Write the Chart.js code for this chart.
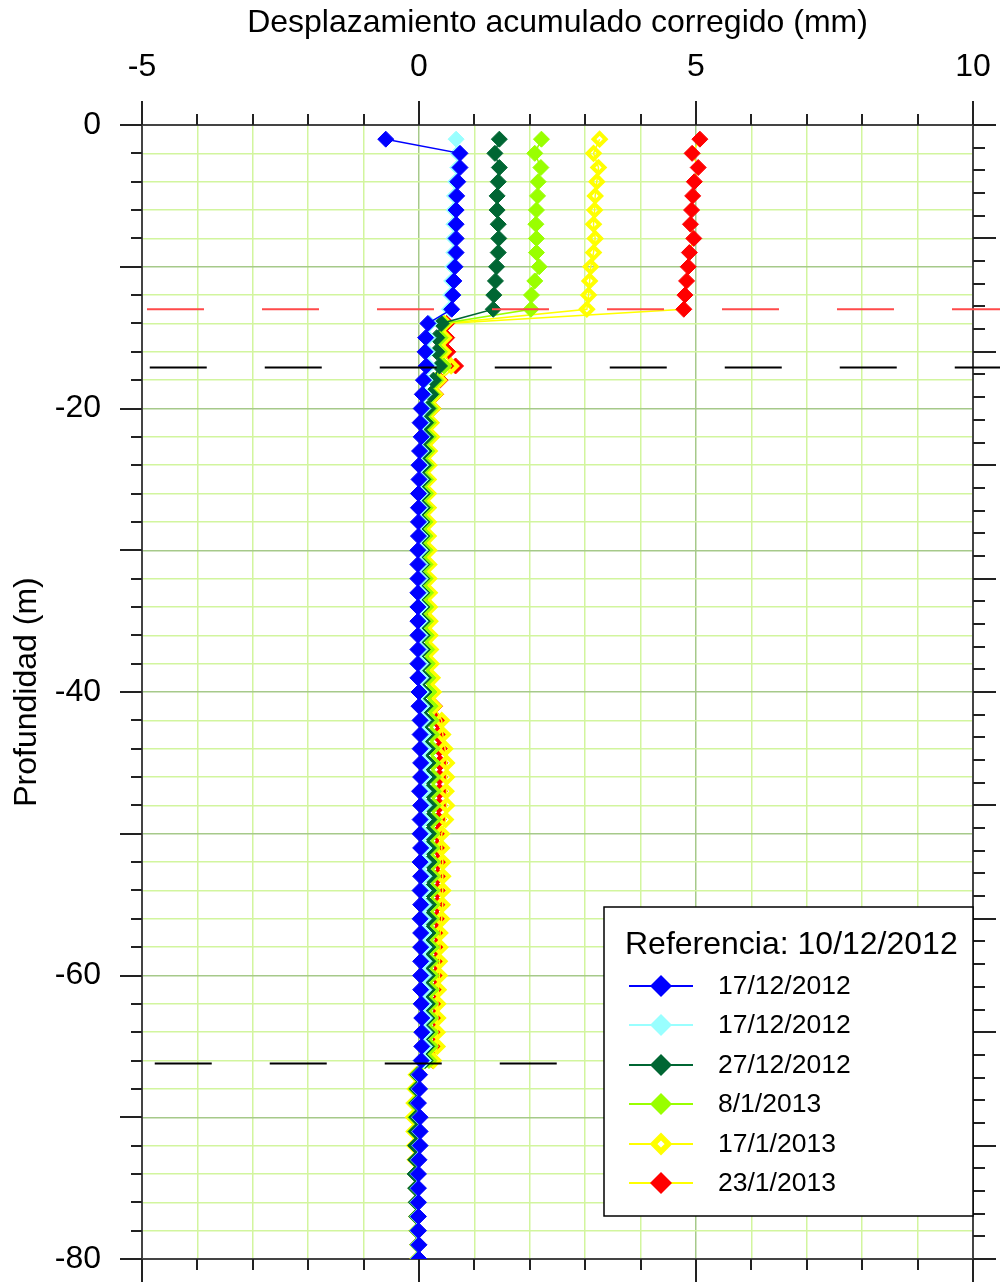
<!DOCTYPE html>
<html>
<head>
<meta charset="utf-8">
<script src="https://cdn.jsdelivr.net/npm/chart.js@4/dist/chart.umd.min.js"></script>
<style>
html,body{margin:0;padding:0;background:#fff;}
#wrap{width:1000px;height:1282px;}
canvas{display:block;}
</style>
</head>
<body>
<div id="wrap"><canvas id="c" width="1000" height="1282"></canvas></div>
<script>
// ---------------- DATA ----------------
const xTitle = 'Desplazamiento acumulado corregido (mm)';
const yTitle = 'Profundidad (m)';
const legendTitle = 'Referencia: 10/12/2012';
const seriesLabels = ['17/12/2012', '17/12/2012', '27/12/2012', '8/1/2013', '17/1/2013', '23/1/2013'];

const depths = [
  -1, -2, -3, -4, -5, -6, -7, -8, -9, -10,
  -11, -12, -13, -14, -15, -16, -17, -18, -19, -20,
  -21, -22, -23, -24, -25, -26, -27, -28, -29, -30,
  -31, -32, -33, -34, -35, -36, -37, -38, -39, -40,
  -41, -42, -43, -44, -45, -46, -47, -48, -49, -50,
  -51, -52, -53, -54, -55, -56, -57, -58, -59, -60,
  -61, -62, -63, -64, -65, -66, -67, -68, -69, -70,
  -71, -72, -73, -74, -75, -76, -77, -78, -79, -80
];

const serie1 = [ // 17/12/2012 (azul)
  -0.60, 0.74, 0.74, 0.70, 0.68, 0.67, 0.67, 0.67, 0.67, 0.65,
  0.63, 0.61, 0.59, 0.16, 0.12, 0.11, 0.13, 0.08, 0.06, 0.04,
  0.02, 0.04, 0.01, 0.00, 0.00, -0.01, -0.01, -0.01, -0.01, -0.02,
  -0.02, -0.02, -0.02, -0.02, -0.02, -0.02, -0.02, -0.02, -0.02, 0.00,
  0.00, 0.02, 0.02, 0.02, 0.03, 0.03, 0.01, 0.03, 0.02, 0.02,
  0.03, 0.02, 0.03, 0.02, 0.03, 0.02, 0.03, 0.03, 0.03, 0.03,
  0.03, 0.04, 0.05, 0.05, 0.05, 0.04, 0.01, 0.01, -0.01, 0.02,
  0.02, 0.02, 0.00, -0.01, -0.01, -0.01, -0.01, -0.01, 0.00, 0.00
];
const serie2 = [ // 17/12/2012 (celeste)
  0.67, 0.70, 0.70, 0.66, 0.64, 0.63, 0.63, 0.63, 0.63, 0.61,
  0.59, 0.57, 0.55, 0.19, 0.16, 0.15, 0.17, 0.11, 0.09, 0.07,
  0.05, 0.06, 0.04, 0.03, 0.03, 0.02, 0.02, 0.02, 0.02, 0.02,
  0.02, 0.02, 0.02, 0.02, 0.02, 0.02, 0.02, 0.03, 0.03, 0.04,
  0.05, 0.07, 0.08, 0.08, 0.09, 0.09, 0.08, 0.09, 0.08, 0.08,
  0.09, 0.08, 0.09, 0.08, 0.09, 0.08, 0.09, 0.09, 0.09, 0.09,
  0.09, 0.09, 0.10, 0.10, 0.10, 0.08, 0.00, 0.00, -0.02, 0.01,
  0.01, 0.01, -0.01, -0.02, -0.02, -0.02, -0.02, -0.02, -0.01, -0.01
];
const serie3 = [ // 27/12/2012 (verde oscuro)
  1.45, 1.37, 1.45, 1.43, 1.41, 1.41, 1.43, 1.44, 1.43, 1.40,
  1.38, 1.35, 1.34, 0.40, 0.32, 0.32, 0.37, 0.26, 0.21, 0.16,
  0.12, 0.12, 0.09, 0.08, 0.07, 0.06, 0.06, 0.05, 0.05, 0.05,
  0.05, 0.05, 0.05, 0.05, 0.06, 0.06, 0.06, 0.07, 0.08, 0.09,
  0.11, 0.13, 0.14, 0.15, 0.16, 0.17, 0.17, 0.18, 0.18, 0.17,
  0.17, 0.18, 0.18, 0.17, 0.17, 0.17, 0.16, 0.16, 0.16, 0.15,
  0.15, 0.15, 0.14, 0.14, 0.14, 0.11, -0.02, -0.03, -0.04, -0.04,
  -0.05, -0.06, -0.06, -0.07, -0.06, -0.05, -0.04, -0.03, -0.02, -0.02
];
const serie4 = [ // 8/1/2013 (verde claro)
  2.21, 2.09, 2.20, 2.15, 2.14, 2.12, 2.11, 2.12, 2.12, 2.17,
  2.09, 2.03, 2.02, 0.43, 0.38, 0.37, 0.45, 0.30, 0.24, 0.20,
  0.17, 0.17, 0.14, 0.13, 0.12, 0.12, 0.11, 0.11, 0.11, 0.11,
  0.11, 0.11, 0.12, 0.12, 0.12, 0.13, 0.14, 0.15, 0.16, 0.18,
  0.20, 0.22, 0.23, 0.24, 0.25, 0.26, 0.26, 0.26, 0.26, 0.24,
  0.24, 0.25, 0.25, 0.24, 0.24, 0.23, 0.23, 0.23, 0.22, 0.22,
  0.22, 0.21, 0.21, 0.21, 0.21, 0.18, -0.03, -0.05, -0.06, -0.06,
  -0.06, -0.05, -0.05, -0.05, -0.04, -0.04, -0.03, -0.03, -0.02, -0.02
];
const serie5 = [ // 17/1/2013 (amarillo)
  3.26, 3.15, 3.24, 3.21, 3.18, 3.17, 3.15, 3.18, 3.15, 3.10,
  3.08, 3.06, 3.03, 0.46, 0.45, 0.44, 0.58, 0.36, 0.29, 0.25,
  0.22, 0.23, 0.19, 0.18, 0.17, 0.17, 0.17, 0.17, 0.17, 0.18,
  0.18, 0.18, 0.19, 0.19, 0.20, 0.20, 0.21, 0.22, 0.24, 0.26,
  0.27, 0.41, 0.43, 0.47, 0.50, 0.50, 0.49, 0.50, 0.48, 0.41,
  0.41, 0.43, 0.43, 0.43, 0.42, 0.41, 0.38, 0.38, 0.37, 0.37,
  0.35, 0.34, 0.34, 0.33, 0.33, 0.26, -0.05, -0.07, -0.09, -0.10,
  -0.09, -0.08, -0.07, -0.06, -0.05, -0.04, -0.04, -0.03, -0.02, -0.02
];
const serie6 = [ // 23/1/2013 (rojo)
  5.07, 4.93, 5.04, 4.97, 4.94, 4.92, 4.90, 4.96, 4.88, 4.86,
  4.83, 4.80, 4.78, 0.50, 0.50, 0.52, 0.66, 0.38, 0.30, 0.25,
  0.21, 0.22, 0.18, 0.17, 0.16, 0.16, 0.16, 0.16, 0.16, 0.16,
  0.17, 0.17, 0.17, 0.17, 0.18, 0.18, 0.19, 0.20, 0.22, 0.25,
  0.28, 0.33, 0.34, 0.37, 0.38, 0.37, 0.37, 0.36, 0.35, 0.33,
  0.33, 0.34, 0.34, 0.33, 0.33, 0.32, 0.32, 0.31, 0.31, 0.30,
  0.30, 0.29, 0.29, 0.29, 0.28, 0.25, -0.04, -0.06, -0.08, -0.09,
  -0.08, -0.07, -0.06, -0.06, -0.05, -0.04, -0.03, -0.03, -0.02, -0.02
];

// horizontal reference lines (depth, start x, end x in mm)
const refDepths = [-13, -17.1, -66.2];
const refStartX = [-4.91, -4.86, -4.77];
const refEndX = [10.5, 10.5, 10.0];

// tick values
const xTickValues = [-5, -4, -3, -2, -1, 0, 1, 2, 3, 4, 5, 6, 7, 8, 9, 10];
const yLeftTickValues = [0, -2, -4, -6, -8, -10, -12, -14, -16, -18, -20, -22, -24, -26, -28, -30,
  -32, -34, -36, -38, -40, -42, -44, -46, -48, -50, -52, -54, -56, -58, -60, -62, -64, -66, -68, -70,
  -72, -74, -76, -78, -80];
const yRightTickValues = [0, -1.6, -3.2, -4.8, -6.4, -8, -9.6, -11.2, -12.8, -14.4, -16, -17.6, -19.2,
  -20.8, -22.4, -24, -25.6, -27.2, -28.8, -30.4, -32, -33.6, -35.2, -36.8, -38.4, -40, -41.6, -43.2,
  -44.8, -46.4, -48, -49.6, -51.2, -52.8, -54.4, -56, -57.6, -59.2, -60.8, -62.4, -64, -65.6, -67.2,
  -68.8, -70.4, -72, -73.6, -75.2, -76.8, -78.4, -80];

// ---------------- CHART ----------------
const FONT = "'Liberation Sans', Arial, Helvetica, sans-serif";
Chart.defaults.font.family = FONT;
Chart.defaults.color = '#000';

function pts(values) { return values.map((v, i) => ({ x: v, y: depths[i] })); }

const GRID_LIGHT = '#d2f59e';
const GRID_DARK = '#a6c98a';

function seriesDs(label, values, lineColor, pointColor, hollow) {
  return {
    label: label,
    data: pts(values),
    showLine: true,
    borderColor: lineColor,
    backgroundColor: pointColor,
    borderWidth: 1.5,
    pointStyle: 'rectRot',
    pointRadius: hollow ? 6 : 8,
    pointBorderWidth: hollow ? 4 : 1,
    pointBackgroundColor: hollow ? 'rgba(0,0,0,0)' : pointColor,
    pointBorderColor: pointColor,
    inLegend: true,
    hollow: !!hollow,
    legendPointColor: pointColor
  };
}

function refDs(i, color) {
  return {
    label: 'ref' + i,
    data: [{ x: refStartX[i], y: refDepths[i] }, { x: refEndX[i], y: refDepths[i] }],
    showLine: true,
    borderColor: color,
    borderWidth: 2,
    borderDash: [57, 58],
    pointRadius: 0,
    clip: false,
    inLegend: false
  };
}

const datasets = [
  refDs(0, '#ff4a4a'),
  refDs(1, '#000000'),
  refDs(2, '#000000'),
  seriesDs(seriesLabels[0], serie1, '#0000ff', '#0000ff', false),
  seriesDs(seriesLabels[1], serie2, '#99ffff', '#99ffff', false),
  seriesDs(seriesLabels[2], serie3, '#006633', '#006633', false),
  seriesDs(seriesLabels[3], serie4, '#99ff00', '#99ff00', false),
  seriesDs(seriesLabels[4], serie5, '#ffff00', '#ffff00', true),
  seriesDs(seriesLabels[5], serie6, '#ffff00', '#ff0000', false)
];

const tickMarksPlugin = {
  id: 'tickMarks',
  afterDraw(chart) {
    const { ctx, chartArea: a, scales } = chart;
    const xs = scales.x, ys = scales.y;
    ctx.save();
    ctx.strokeStyle = '#222';
    ctx.lineWidth = 2;
    ctx.beginPath();
    xTickValues.forEach(v => {
      const px = Math.round(xs.getPixelForValue(v));
      const major = v % 5 === 0;
      ctx.moveTo(px, a.top);
      ctx.lineTo(px, a.top - (major ? 24 : 11));
      ctx.moveTo(px, a.bottom);
      ctx.lineTo(px, a.bottom + (major ? 23 : 11));
    });
    yLeftTickValues.forEach(v => {
      const py = Math.round(ys.getPixelForValue(v));
      const major = v % 10 === 0;
      ctx.moveTo(a.left, py);
      ctx.lineTo(a.left - (major ? 22 : 11), py);
    });
    yRightTickValues.forEach((v, i) => {
      const py = Math.round(ys.getPixelForValue(v));
      const major = i % 5 === 0;
      ctx.moveTo(a.right, py);
      ctx.lineTo(a.right + (major ? 23 : 12), py);
    });
    ctx.stroke();
    ctx.restore();
  }
};

function diamond(ctx, x, y, r) {
  ctx.beginPath();
  ctx.moveTo(x - r, y);
  ctx.lineTo(x, y - r);
  ctx.lineTo(x + r, y);
  ctx.lineTo(x, y + r);
  ctx.closePath();
}

const boxLegendPlugin = {
  id: 'boxLegend',
  afterDraw(chart) {
    const { ctx, chartArea: a } = chart;
    const w = 369, h = 309;
    const x0 = a.right - w, y0 = a.bottom - 43 - h;
    ctx.save();
    ctx.fillStyle = '#fff';
    ctx.fillRect(x0, y0, w, h);
    ctx.strokeStyle = '#000';
    ctx.lineWidth = 1.5;
    ctx.strokeRect(x0, y0, w, h);
    ctx.fillStyle = '#000';
    ctx.textAlign = 'left';
    ctx.textBaseline = 'middle';
    ctx.font = '32px ' + FONT;
    ctx.fillText(legendTitle, x0 + 21, y0 + 38);
    ctx.font = '26.5px ' + FONT;
    const items = chart.data.datasets.filter(d => d.inLegend);
    items.forEach((d, i) => {
      const cy = Math.round(y0 + 79 + i * 39.4);
      ctx.strokeStyle = d.borderColor;
      ctx.lineWidth = 2;
      ctx.beginPath();
      ctx.moveTo(x0 + 25, cy);
      ctx.lineTo(x0 + 89, cy);
      ctx.stroke();
      if (d.hollow) {
        diamond(ctx, x0 + 57, cy, 7.5);
        ctx.fillStyle = '#fff';
        ctx.fill();
        ctx.strokeStyle = d.legendPointColor;
        ctx.lineWidth = 5.5;
        ctx.stroke();
      } else {
        diamond(ctx, x0 + 57, cy, 11);
        ctx.fillStyle = d.legendPointColor;
        ctx.fill();
      }
      ctx.fillStyle = '#000';
      ctx.fillText(d.label, x0 + 114, cy + 1);
    });
    ctx.restore();
  }
};

const HIDDEN = 'rgba(0,0,0,0)';

new Chart(document.getElementById('c'), {
  type: 'scatter',
  data: { datasets: datasets },
  plugins: [tickMarksPlugin, boxLegendPlugin],
  options: {
    responsive: false,
    animation: false,
    events: [],
    layout: { padding: 0, autoPadding: false },
    plugins: { legend: { display: false }, tooltip: { enabled: false }, title: { display: false } },
    scales: {
      x: {
        type: 'linear', position: 'top', min: -5, max: 10,
        ticks: {
          stepSize: 1, autoSkip: false, maxRotation: 0, padding: 1,
          font: { size: 32 }, color: '#000',
          callback: v => (v % 5 === 0 ? String(v) : '')
        },
        grid: {
          drawTicks: true, tickLength: 38, tickColor: HIDDEN, lineWidth: 1.5,
          color: c => (c.tick && c.tick.value % 5 === 0 ? GRID_DARK : GRID_LIGHT)
        },
        border: { display: true, color: '#444', width: 2 },
        title: { display: true, text: xTitle, font: { size: 32 }, color: '#000', padding: { top: 4, bottom: 0 } },
        afterFit: s => { s.height = 125; }
      },
      x2: {
        type: 'linear', position: 'bottom', min: -5, max: 10,
        ticks: { display: false },
        grid: { display: false, drawTicks: false },
        border: { display: true, color: '#444', width: 2 },
        afterFit: s => { s.height = 23; }
      },
      y: {
        type: 'linear', position: 'left', min: -80, max: 0,
        ticks: {
          stepSize: 2, autoSkip: false, padding: 1,
          font: { size: 32 }, color: '#000',
          callback: v => (v % 20 === 0 ? String(v) : '')
        },
        grid: {
          drawTicks: true, tickLength: 40, tickColor: HIDDEN, lineWidth: 1.5,
          color: c => (c.tick && c.tick.value % 10 === 0 ? GRID_DARK : GRID_LIGHT)
        },
        border: { display: true, color: '#444', width: 2 },
        title: { display: true, text: yTitle, font: { size: 32 }, color: '#000', padding: { top: 8, bottom: 0 } },
        afterFit: s => { s.width = 142; }
      },
      y2: {
        type: 'linear', position: 'right', min: -80, max: 0,
        ticks: { display: false },
        grid: { display: false, drawTicks: false },
        border: { display: true, color: '#444', width: 2 },
        afterFit: s => { s.width = 27; }
      }
    }
  }
});
</script>
</body>
</html>
